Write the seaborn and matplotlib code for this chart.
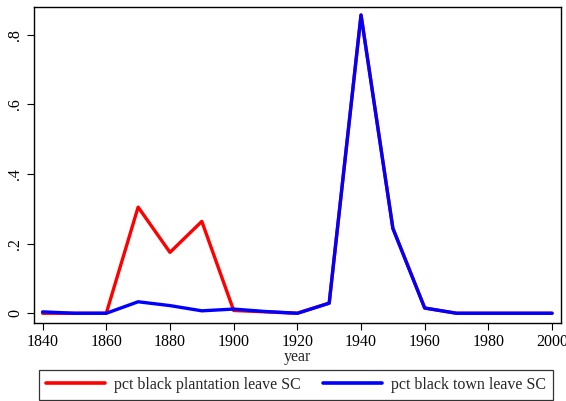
import matplotlib
matplotlib.use("Agg")
import matplotlib.pyplot as plt
import seaborn as sns
import pandas as pd

years = [1840, 1850, 1860, 1870, 1880, 1890, 1900, 1910, 1920, 1930, 1940, 1950, 1960, 1970, 1980, 1990, 2000]
plantation = [0.0, 0.0, 0.0, 0.305, 0.175, 0.264, 0.008, 0.004, 0.0, 0.029, 0.857, 0.244, 0.015, 0.0, 0.0, 0.0, 0.0]
town = [0.004, 0.0, 0.0, 0.033, 0.022, 0.007, 0.012, 0.005, 0.0, 0.029, 0.857, 0.244, 0.015, 0.0, 0.0, 0.0, 0.0]
series_names = ["pct black plantation leave SC", "pct black town leave SC"]
xticks = [1840, 1860, 1880, 1900, 1920, 1940, 1960, 1980, 2000]
yticks = [0, 0.2, 0.4, 0.6, 0.8]
ytick_labels = ["0", ".2", ".4", ".6", ".8"]

df = pd.DataFrame({
    "year": years * 2,
    "value": plantation + town,
    "series": [series_names[0]] * len(years) + [series_names[1]] * len(years),
})

sns.set_style("ticks")
plt.rcParams["font.family"] = ["Liberation Serif", "DejaVu Serif"]

fig = plt.figure(figsize=(5.66, 4.01), dpi=100)
ax = fig.add_axes([34 / 566, 78 / 401, 527 / 566, 316 / 401])

sns.lineplot(data=df, x="year", y="value", hue="series",
             palette={series_names[0]: "#ff0000", series_names[1]: "#0000ff"},
             linewidth=2.4, ax=ax, legend=True)

ax.set_xlim(1837.3, 2002.8)
ax.set_ylim(-0.028, 0.880)
ax.set_xticks(xticks)
ax.set_xticklabels([str(x) for x in xticks], fontsize=11.5)
ax.set_yticks(yticks)
ax.set_yticklabels(ytick_labels, fontsize=11.5, rotation=90, va="center")
ax.set_xlabel("year", fontsize=11.5, labelpad=-1)
ax.set_ylabel("")
ax.tick_params(direction="out", length=5, width=0.8, colors="black", pad=3)
for s in ax.spines.values():
    s.set_visible(True)
    s.set_color("black")
    s.set_linewidth(1.0)

handles, labels = ax.get_legend_handles_labels()
ax.legend_.remove()
leg = fig.legend(handles, labels, ncol=2,
                 loc="lower left",
                 bbox_to_anchor=(39 / 566, 1 / 401),
                 bbox_transform=fig.transFigure,
                 fontsize=11.5, handlelength=3.7, handletextpad=0.55,
                 columnspacing=1.4,
                 borderaxespad=0, frameon=True, fancybox=False,
                 edgecolor="black", borderpad=0.45)
leg.get_frame().set_linewidth(0.9)
for line in leg.get_lines():
    line.set_linewidth(2.6)

fig.savefig("out.png", dpi=100)
